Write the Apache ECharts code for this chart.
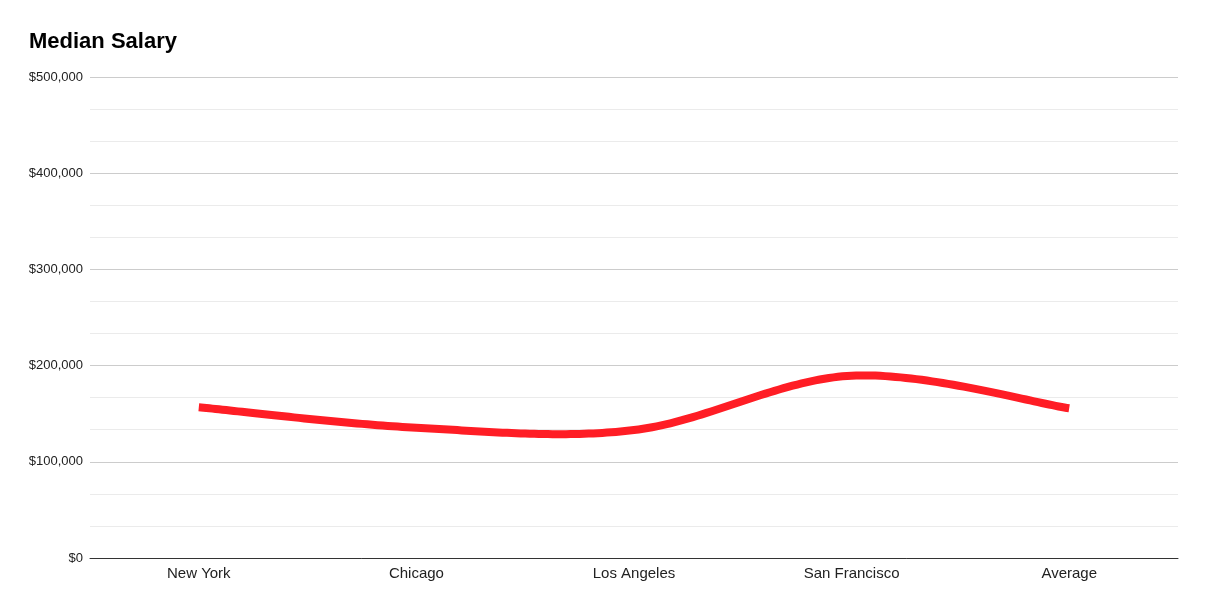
<!DOCTYPE html>
<html>
<head>
<meta charset="utf-8">
<script src="https://cdn.jsdelivr.net/npm/echarts@6/dist/echarts.min.js"></script>
<style>
html,body{margin:0;padding:0;background:#fff;}
#chart{width:1205px;height:608px;}
</style>
</head>
<body>
<div id="chart"></div>
<script>
const categories = ['New York', 'Chicago', 'Los Angeles', 'San Francisco', 'Average'];
const medianSalary = [156700, 135400, 133000, 189500, 155600];
const yTicks = [0, 100000, 200000, 300000, 400000, 500000];

const lineColor = '#ff1d25';
const fontFamily = 'Arial, "Liberation Sans", sans-serif';

// Draws a cardinal (Catmull-Rom) spline through the data points, positioned by the chart's own axes.
function renderCurve(params, api) {
  if (params.dataIndex !== 0) return null;
  const pts = medianSalary.map(function (v, i) { return api.coord([i, v]); });
  const n = pts.length;
  const out = [];
  const steps = 48;
  for (let i = 0; i < n - 1; i++) {
    const p0 = pts[Math.max(i - 1, 0)];
    const p1 = pts[i];
    const p2 = pts[i + 1];
    const p3 = pts[Math.min(i + 2, n - 1)];
    const c1 = [p1[0] + (p2[0] - p0[0]) / 6, p1[1] + (p2[1] - p0[1]) / 6];
    const c2 = [p2[0] - (p3[0] - p1[0]) / 6, p2[1] - (p3[1] - p1[1]) / 6];
    for (let s = (i === 0 ? 0 : 1); s <= steps; s++) {
      const t = s / steps, u = 1 - t;
      const a = u * u * u, b = 3 * u * u * t, c = 3 * u * t * t, d = t * t * t;
      out.push([
        a * p1[0] + b * c1[0] + c * c2[0] + d * p2[0],
        a * p1[1] + b * c1[1] + c * c2[1] + d * p2[1]
      ]);
    }
  }
  return {
    type: 'polyline',
    shape: {points: out},
    style: {stroke: lineColor, lineWidth: 8, fill: null, lineCap: 'butt', lineJoin: 'round'}
  };
}

const chart = echarts.init(document.getElementById('chart'), null, {renderer: 'canvas'});
chart.setOption({
  animation: false,
  backgroundColor: '#ffffff',
  title: {
    text: 'Median Salary',
    left: 29,
    top: 31,
    padding: 0,
    textStyle: {fontFamily: fontFamily, fontSize: 22, fontWeight: 'bold', color: '#000000'}
  },
  grid: {left: 90, right: 27, top: 77, bottom: 50, containLabel: false},
  xAxis: {
    type: 'category',
    data: categories,
    boundaryGap: true,
    axisLine: {show: true, lineStyle: {color: '#333333', width: 1}},
    axisTick: {show: false},
    axisLabel: {fontFamily: fontFamily, fontSize: 15, color: '#222222', margin: 8}
  },
  yAxis: {
    type: 'value',
    min: yTicks[0],
    max: yTicks[yTicks.length - 1],
    interval: 100000,
    axisLine: {show: false},
    axisTick: {show: false},
    axisLabel: {
      fontFamily: fontFamily, fontSize: 13, color: '#222222', margin: 7,
      formatter: function (v) { return '$' + v.toLocaleString('en-US'); }
    },
    splitLine: {show: true, lineStyle: {color: '#cccccc', width: 1}},
    minorTick: {show: false, splitNumber: 3},
    minorSplitLine: {show: true, lineStyle: {color: '#ebebeb', width: 1}}
  },
  series: [{
    type: 'custom',
    name: 'Median Salary',
    data: medianSalary.map(function (v, i) { return [i, v]; }),
    encode: {x: 0, y: 1},
    renderItem: renderCurve,
    clip: false
  }]
});
</script>
</body>
</html>
